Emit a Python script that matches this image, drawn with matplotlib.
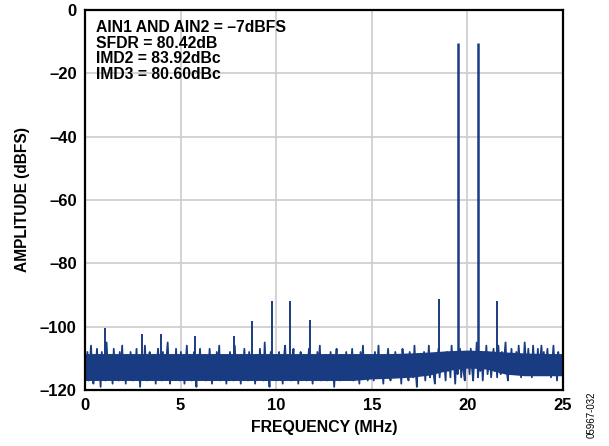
import numpy as np
import matplotlib.pyplot as plt

plt.rcParams['font.family'] = ['Liberation Sans', 'DejaVu Sans']

# noise floor samples (dBFS), evenly spaced across 0..25 MHz
noise_db = [
    -110, -115, -108, -117, -112, -106, -114, -118, -109, -113, -107, -116, -111, -119, -108, -114, -110, -117, -105, -113,
    -116, -109, -112, -118, -107, -115, -110, -113, -117, -108, -114, -106, -116, -111, -118, -109, -113, -115, -108, -112,
    -117, -110, -114, -107, -116, -112, -119, -109, -111, -115, -106, -113, -117, -110, -108, -116, -112, -114, -109, -118,
    -111, -107, -115, -113, -117, -108, -112, -116, -110, -105, -114, -118, -109, -113, -111, -116, -107, -115, -112, -117,
    -108, -114, -110, -118, -112, -106, -116, -109, -113, -117, -111, -108, -115, -119, -110, -113, -107, -116, -112, -114,
    -109, -117, -111, -115, -107, -113, -118, -110, -112, -116, -108, -114, -106, -117, -111, -115, -109, -113, -118, -110,
    -115, -108, -113, -111, -117, -106, -114, -110, -116, -112, -118, -109, -113, -107, -115, -111, -117, -108, -112, -116,
    -110, -114, -118, -109, -112, -116, -107, -113, -111, -117, -105, -115, -110, -114, -119, -108, -112, -116, -109, -113,
    -117, -111, -108, -115, -113, -118, -110, -106, -114, -112, -116, -109, -117, -111, -107, -115, -113, -110, -118, -112,
    -108, -116, -112, -114, -109, -117, -111, -107, -115, -113, -118, -110, -112, -116, -108, -114, -106, -117, -111, -115,
    -112, -109, -117, -110, -114, -108, -116, -113, -119, -111, -107, -115, -112, -117, -109, -113, -110, -116, -108, -114,
    -116, -110, -113, -107, -117, -112, -109, -115, -111, -118, -108, -114, -106, -116, -113, -110, -117, -109, -112, -115,
    -111, -117, -108, -114, -112, -106, -116, -110, -113, -118, -109, -115, -111, -107, -114, -117, -110, -112, -116, -108,
    -113, -109, -116, -111, -118, -107, -112, -115, -110, -114, -117, -108, -113, -111, -116, -106, -114, -119, -109, -112,
    -115, -110, -113, -108, -117, -111, -114, -106, -116, -112, -109, -115, -118, -110, -113, -107, -116, -111, -114, -109,
    -112, -117, -108, -114, -110, -116, -106, -113, -111, -118, -109, -115, -112, -107, -116, -110, -114, -117, -108, -113,
    -110, -115, -107, -113, -117, -109, -112, -105, -116, -111, -114, -108, -117, -110, -113, -106, -115, -112, -109, -116,
    -111, -107, -114, -109, -116, -106, -112, -115, -108, -113, -110, -105, -114, -117, -109, -112, -107, -115, -110, -113,
    -108, -114, -106, -112, -116, -109, -113, -105, -111, -115, -107, -113, -110, -116, -106, -112, -109, -114, -107, -115,
    -110, -106, -113, -108, -115, -111, -107, -114, -109, -116, -112, -106, -113, -110, -117, -108, -112, -115, -109, -113,
]
noise_mhz = np.linspace(0, 25, len(noise_db))

# solid core of the noise floor, read every 1 MHz (0..25)
band_mhz = list(range(26))
band_top = [-108.5, -108.5, -108.5, -108.5, -108.5, -108.5, -108.5, -108.5, -108.5, -108.5, -108.5, -108.5, -108.5,
            -108.5, -108.5, -108.5, -108.5, -108.3, -108, -107.6, -107.4, -107.6, -108, -108.3, -108.5, -108.5]
band_bot = [-117, -117, -117, -117, -117, -117, -117, -117, -117, -117, -117, -117, -117,
            -117, -117, -116.5, -116.3, -116, -115.3, -113.8, -113, -113.4, -115, -115.5, -115.5, -115.5]

# spurs and the two input tones
spur_mhz = [1.05, 3.0, 3.97, 5.75, 7.78, 8.75, 9.76, 10.74, 11.75, 18.53, 21.55]
spur_db = [-100.4, -102.3, -102.3, -102.9, -103, -98.2, -92, -92, -98, -91.3, -92]
tone_mhz = [19.53, 20.53]
tone_db = [-10.4, -10.4]

info = ['AIN1 AND AIN2 = \u20137dBFS', 'SFDR = 80.42dB', 'IMD2 = 83.92dBc', 'IMD3 = 80.60dBc']

color = '#193b82'

fig = plt.figure(figsize=(6.09, 4.46), dpi=100)
ax = fig.add_axes([0.1396, 0.1256, 0.7849, 0.852])

ax.fill_between(band_mhz, band_bot, band_top, color=color, lw=0)
ax.plot(noise_mhz, noise_db, color=color, lw=1.3)
ax.vlines(spur_mhz, -112, spur_db, color=color, lw=1.4)
ax.vlines(tone_mhz, -112, tone_db, color=color, lw=1.8)

ax.set_xlim(0, 25)
ax.set_ylim(-120, 0)
ax.set_xticks([0, 5, 10, 15, 20, 25])
ax.set_yticks([0, -20, -40, -60, -80, -100, -120])
ax.set_yticklabels(['0', '\u201320', '\u201340', '\u201360', '\u201380', '\u2013100', '\u2013120'])
ax.tick_params(length=0, labelsize=12, pad=6)
for lbl in ax.get_xticklabels() + ax.get_yticklabels():
    lbl.set_fontweight('bold')
ax.grid(True, color='#cccccc', lw=1.2)
ax.set_axisbelow(True)
for s in ax.spines.values():
    s.set_linewidth(1.6)

ax.set_xlabel('FREQUENCY (MHz)', fontsize=11.4, fontweight='bold', labelpad=5)
ax.set_ylabel('AMPLITUDE (dBFS)', fontsize=11.2, fontweight='bold', labelpad=7)

ax.text(0.022, 0.973, '\n'.join(info), transform=ax.transAxes, va='top', ha='left',
        fontsize=11.3, fontweight='bold', linespacing=1.05)

fig.text(0.972, 0.07, '05967-032', rotation=90, fontsize=7, ha='center', va='center')

fig.savefig('out.png', dpi=100)
